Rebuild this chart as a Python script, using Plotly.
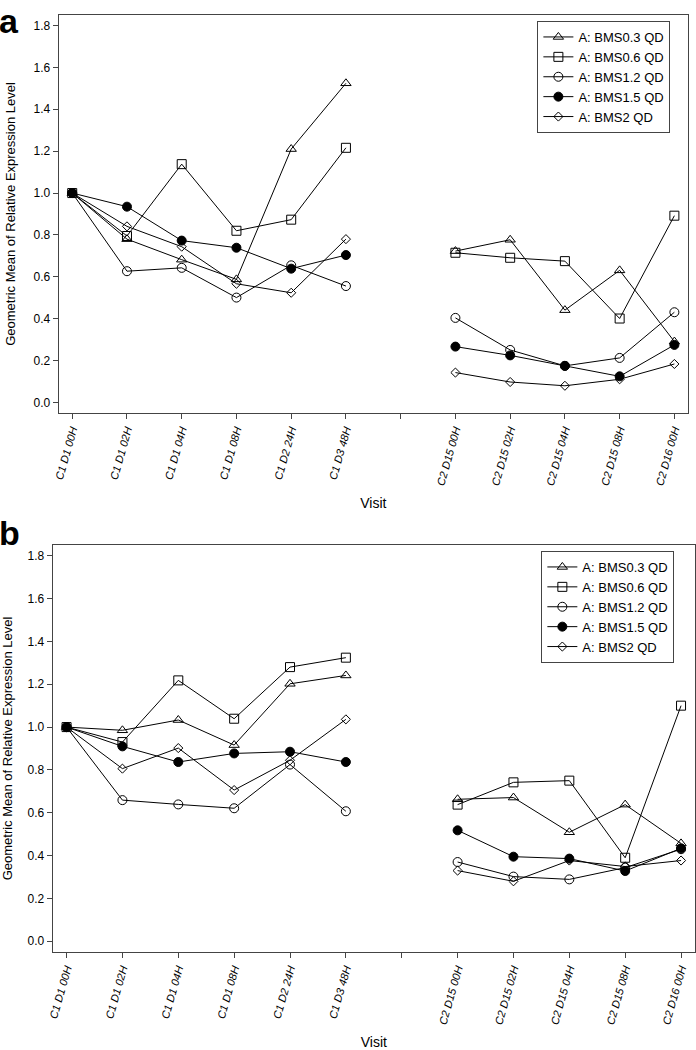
import plotly.graph_objects as go

# visit labels, with a blank spacer between cycle 1 and cycle 2
visits = ["C1 D1 00H", "C1 D1 02H", "C1 D1 04H", "C1 D1 08H", "C1 D2 24H", "C1 D3 48H",
          " ",
          "C2 D15 00H", "C2 D15 02H", "C2 D15 04H", "C2 D15 08H", "C2 D16 00H"]

groups = ["A: BMS0.3 QD", "A: BMS0.6 QD", "A: BMS1.2 QD", "A: BMS1.5 QD", "A: BMS2 QD"]

# panel a (None = spacer)
a_bms03 = [1.0, 0.78, 0.682, 0.588, 1.21, 1.524, None, 0.723, 0.777, 0.441, 0.631, 0.291]
a_bms06 = [1.0, 0.795, 1.138, 0.82, 0.873, 1.216, None, 0.715, 0.691, 0.675, 0.401, 0.892]
a_bms12 = [1.0, 0.627, 0.643, 0.501, 0.655, 0.556, None, 0.404, 0.251, 0.175, 0.213, 0.431]
a_bms15 = [1.0, 0.935, 0.773, 0.739, 0.639, 0.704, None, 0.267, 0.225, 0.175, 0.125, 0.275]
a_bms2 = [1.0, 0.841, 0.744, 0.567, 0.524, 0.78, None, 0.143, 0.098, 0.080, 0.111, 0.184]

# panel b
b_bms03 = [1.0, 0.985, 1.033, 0.916, 1.202, 1.241, None, 0.663, 0.671, 0.509, 0.638, 0.457]
b_bms06 = [1.0, 0.93, 1.218, 1.039, 1.28, 1.324, None, 0.638, 0.742, 0.75, 0.39, 1.1]
b_bms12 = [1.0, 0.659, 0.639, 0.621, 0.825, 0.607, None, 0.37, 0.302, 0.289, 0.344, 0.43]
b_bms15 = [1.0, 0.91, 0.837, 0.877, 0.885, 0.837, None, 0.518, 0.395, 0.386, 0.328, 0.434]
b_bms2 = [1.0, 0.806, 0.902, 0.706, 0.845, 1.036, None, 0.33, 0.28, 0.377, 0.349, 0.377]

symbols = ["triangle-up-open", "square-open", "circle-open", "circle", "diamond-open"]
sizes = [9, 9, 9, 9, 7]

fig = go.Figure()

panels = [
    ("x", "y", "legend", [a_bms03, a_bms06, a_bms12, a_bms15, a_bms2]),
    ("x2", "y2", "legend2", [b_bms03, b_bms06, b_bms12, b_bms15, b_bms2]),
]
for xa, ya, leg, series in panels:
    for name, vals, sym, sz in zip(groups, series, symbols, sizes):
        fig.add_trace(go.Scatter(
            x=visits, y=vals, name=name, mode="lines+markers",
            xaxis=xa, yaxis=ya, legend=leg, connectgaps=False,
            line=dict(color="black", width=1),
            marker=dict(symbol=sym, size=sz, color="black",
                        line=dict(color="black", width=1)),
        ))

font = "Liberation Sans, Arial, sans-serif"

xcommon = dict(type="category", categoryorder="array", categoryarray=visits,
               range=[-0.25, 11.25], showgrid=False, zeroline=False,
               showline=True, linecolor="#444", linewidth=1, mirror=True,
               ticks="outside", ticklen=5, tickcolor="#444", tickangle=-74,
               tickfont=dict(family=font, size=11, style="italic", color="black"),
               title=dict(text="Visit", font=dict(family=font, size=14, color="black"),
                          standoff=12))
ycommon = dict(range=[-0.05, 1.85], tickvals=[0, 0.2, 0.4, 0.6, 0.8, 1.0, 1.2, 1.4, 1.6, 1.8],
               tickformat=".1f", showgrid=False, zeroline=False,
               showline=True, linecolor="#444", linewidth=1, mirror=True,
               ticks="outside", ticklen=5, tickcolor="#444",
               tickfont=dict(family=font, size=12, color="black"),
               title=dict(text="Geometric Mean of Relative Expression Level",
                          font=dict(family=font, size=13, color="black"), standoff=14))

legcommon = dict(xanchor="left", yanchor="top", bgcolor="white",
                 bordercolor="#444", borderwidth=1, itemwidth=30,
                 font=dict(family=font, size=13, color="black"),
                 tracegroupgap=0)

fig.update_layout(
    width=696, height=1050,
    margin=dict(l=0, r=0, t=0, b=0),
    paper_bgcolor="white", plot_bgcolor="white",
    xaxis=dict(xcommon, domain=[53 / 696, 688 / 696], anchor="y"),
    yaxis=dict(ycommon, domain=[1 - 413 / 1050, 1 - 15 / 1050], anchor="x"),
    xaxis2=dict(xcommon, domain=[47 / 696, 695 / 696], anchor="y2"),
    yaxis2=dict(ycommon, domain=[1 - 952 / 1050, 1 - 545 / 1050], anchor="x2"),
    legend=dict(legcommon, x=536 / 696, y=1 - 21 / 1050),
    legend2=dict(legcommon, x=540 / 696, y=1 - 551 / 1050),
    annotations=[
        dict(text="<b>a</b>", xref="paper", yref="paper", x=-9 / 696, y=1.0,
             xanchor="left", yanchor="top", showarrow=False,
             font=dict(family=font, size=34, color="black")),
        dict(text="<b>b</b>", xref="paper", yref="paper", x=-9 / 696, y=1 - 512 / 1050,
             xanchor="left", yanchor="top", showarrow=False,
             font=dict(family=font, size=34, color="black")),
    ],
)

fig.write_html("out.html", config={"displayModeBar": False},
               post_script="document.body.style.margin='0';")
